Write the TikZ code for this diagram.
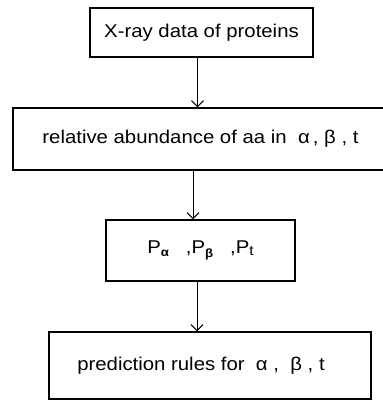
\documentclass[tikz,border=0pt]{standalone}
\usepackage{fontspec}
\setmainfont{Liberation Sans}[FakeStretch=1.1]
\usetikzlibrary{arrows.meta}
\begin{document}
\begin{tikzpicture}[x=1pt,y=-1pt,
  box/.style={draw, line width=1.4pt, inner sep=0pt, font=\fontsize{18.5}{22}\selectfont},
  link/.style={line width=0.9pt, -{Straight Barb[length=6pt,width=12pt,line width=1pt]}}]
\useasboundingbox (0,0) rectangle (382,403);
\node[box, minimum width=223, minimum height=49] (b1) at (201.5,32.5) {X-ray data of proteins};
\node[box, minimum width=371, minimum height=62] (b2) at (198.5,139) {\hspace*{4pt}relative abundance of aa in\ \ α\,,\ β\ ,\ t};
\node[box, minimum width=189, minimum height=61] (b3) at (200.5,250.5) {P\raisebox{-3pt}{\fontsize{12}{12}\selectfont\bfseries α}\ \ \ ,P\raisebox{-4pt}{\fontsize{12}{12}\selectfont\bfseries β}\ \ \ ,P\raisebox{-2pt}{\fontsize{14}{14}\selectfont t}};
\node[box, minimum width=322, minimum height=67] (b4) at (210,365.5) {\hspace*{-18pt}prediction rules for\ \ α\ ,\ \ β\ ,\ t};
\draw[link] ([xshift=-4pt]b1.south) -- ([xshift=-4pt]b1.south |- b2.north);
\draw[link] ([xshift=-5.5pt]b2.south) -- ([xshift=-5.5pt]b2.south |- b3.north);
\draw[link] ([xshift=-3.5pt]b3.south) -- ([xshift=-3.5pt]b3.south |- b4.north);
\end{tikzpicture}
\end{document}
